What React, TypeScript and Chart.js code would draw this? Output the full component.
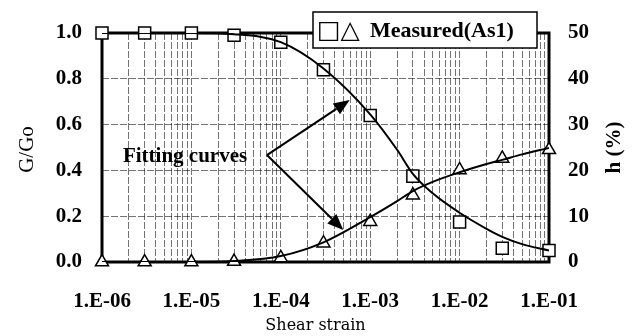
import React, { useEffect, useRef } from "react";
import { Chart, registerables } from "chart.js";

Chart.register(...registerables);

// ---- data ----
const strainPoints = [1e-6, 3e-6, 1e-5, 3e-5, 1e-4, 3e-4, 1e-3, 3e-3, 1e-2, 3e-2, 1e-1];
const measuredG = [1.0, 1.0, 1.0, 0.99, 0.96, 0.84, 0.64, 0.375, 0.175, 0.06, 0.05];
const measuredH = [0, 0, 0, 0.1, 0.9, 4.1, 8.8, 14.6, 20.1, 22.6, 24.5];

const fitStrain = [1e-6, 3e-6, 1e-5, 3e-5, 1e-4, 3e-4, 1e-3, 2e-3, 3e-3, 5e-3, 1e-2, 2e-2, 3e-2, 5e-2, 1e-1];
const fitG = [1.0, 1.0, 1.0, 0.995, 0.96, 0.845, 0.645, 0.49, 0.385, 0.3, 0.215, 0.145, 0.11, 0.078, 0.05];
const fitH = [0, 0, 0, 0.2, 1.3, 4.3, 9.8, 13.3, 15.5, 17.5, 19.6, 21.4, 22.3, 23.5, 24.9];

const xMajorTicks = [1e-6, 1e-5, 1e-4, 1e-3, 1e-2, 1e-1];
const xTickLabels = ["1.E-06", "1.E-05", "1.E-04", "1.E-03", "1.E-02", "1.E-01"];
const xMinorMultipliers = [2, 3, 4, 5, 6, 7, 8, 9];

const xTitle = "Shear strain";
const yTitle = "G/Go";
const y1Title = "h (%)";
const legendSymbols = "□△";
const legendText = "Measured(As1)";
const annotationText = "Fitting curves";

// annotation anchor points in data space (strain, G/Go)
const arrowVertex = { x: 7.0e-5, y: 0.467 };
const arrowTips = [
  { x: 5.9e-4, y: 0.707 },
  { x: 5.0e-4, y: 0.14 },
];
const annotationAnchor = { x: 4.2e-5, y: 0.46 };

const SERIF = "'Liberation Serif', 'Times New Roman', serif";

const overlayPlugin = {
  id: "overlay",
  beforeDatasetsDraw(chart: any) {
    const { ctx, chartArea } = chart;
    ctx.save();
    ctx.strokeStyle = "#000";
    ctx.lineWidth = 3;
    ctx.strokeRect(chartArea.left, chartArea.top, chartArea.right - chartArea.left, chartArea.bottom - chartArea.top);
    ctx.restore();
  },
  afterDatasetsDraw(chart: any) {
    const { ctx, chartArea, scales } = chart;
    const xs = scales.x;
    const ys = scales.y;
    ctx.save();

    // arrows
    const vx = xs.getPixelForValue(arrowVertex.x);
    const vy = ys.getPixelForValue(arrowVertex.y);
    ctx.strokeStyle = "#000";
    ctx.fillStyle = "#000";
    ctx.lineWidth = 2;
    arrowTips.forEach((t) => {
      const tx = xs.getPixelForValue(t.x);
      const ty = ys.getPixelForValue(t.y);
      const ang = Math.atan2(ty - vy, tx - vx);
      const headLen = 16;
      const headW = 6.5;
      const bx = tx - Math.cos(ang) * headLen;
      const by = ty - Math.sin(ang) * headLen;
      ctx.beginPath();
      ctx.moveTo(vx, vy);
      ctx.lineTo(bx, by);
      ctx.stroke();
      ctx.beginPath();
      ctx.moveTo(tx, ty);
      ctx.lineTo(bx + Math.sin(ang) * headW, by - Math.cos(ang) * headW);
      ctx.lineTo(bx - Math.sin(ang) * headW, by + Math.cos(ang) * headW);
      ctx.closePath();
      ctx.fill();
    });

    // annotation text
    ctx.font = `bold 21px ${SERIF}`;
    ctx.textAlign = "right";
    ctx.textBaseline = "middle";
    ctx.fillText(annotationText, xs.getPixelForValue(annotationAnchor.x), ys.getPixelForValue(annotationAnchor.y));

    // legend box
    const bw = 224;
    const bh = 36;
    const bxl = chartArea.right - 12 - bw;
    const byt = chartArea.top - 21;
    ctx.fillStyle = "#fff";
    ctx.fillRect(bxl, byt, bw, bh);
    ctx.lineWidth = 1.5;
    ctx.strokeStyle = "#000";
    ctx.strokeRect(bxl, byt, bw, bh);
    ctx.fillStyle = "#000";
    ctx.textAlign = "left";
    ctx.textBaseline = "middle";
    ctx.font = `25px 'DejaVu Sans', sans-serif`;
    ctx.fillText(legendSymbols, bxl + 4, byt + bh / 2 + 1);
    ctx.font = `bold 22px ${SERIF}`;
    ctx.fillText(legendText, bxl + 57, byt + bh / 2 + 1);

    // axis titles
    const cy = (chartArea.top + chartArea.bottom) / 2;
    ctx.font = `21px ${SERIF}`;
    ctx.textAlign = "center";
    ctx.save();
    ctx.translate(chartArea.left - 75, cy + 2);
    ctx.rotate(-Math.PI / 2);
    ctx.fillText(yTitle, 0, 0);
    ctx.restore();

    ctx.font = `bold 21px ${SERIF}`;
    ctx.save();
    ctx.translate(chartArea.right + 66, cy);
    ctx.rotate(-Math.PI / 2);
    ctx.fillText(y1Title, 0, 0);
    ctx.restore();

    ctx.font = `16px 'DejaVu Serif', serif`;
    ctx.fillText(xTitle, (chartArea.left + chartArea.right) / 2 - 10, chartArea.bottom + 64);

    ctx.restore();
  },
};

export default function App() {
  const ref = useRef<HTMLCanvasElement>(null);
  useEffect(() => {
    const canvas = ref.current!;
    const pts = (xs: number[], ys: number[]) => xs.map((x, i) => ({ x, y: ys[i] }));
    const chart = new Chart(canvas, {
      type: "line",
      data: {
        datasets: [
          {
            data: pts(fitStrain, fitG),
            yAxisID: "y",
            borderColor: "#000",
            borderWidth: 2,
            pointRadius: 0,
            cubicInterpolationMode: "monotone",
            fill: false,
          },
          {
            data: pts(fitStrain, fitH),
            yAxisID: "y1",
            borderColor: "#000",
            borderWidth: 2,
            pointRadius: 0,
            cubicInterpolationMode: "monotone",
            fill: false,
          },
          {
            data: pts(strainPoints, measuredG),
            yAxisID: "y",
            showLine: false,
            pointStyle: "rect",
            pointRadius: 8.5,
            pointBackgroundColor: "#fff",
            pointBorderColor: "#000",
            pointBorderWidth: 1.5,
            clip: false,
          },
          {
            data: pts(strainPoints, measuredH),
            yAxisID: "y1",
            showLine: false,
            pointStyle: "triangle",
            pointRadius: 7.5,
            pointBackgroundColor: "#fff",
            pointBorderColor: "#000",
            pointBorderWidth: 1.5,
            clip: false,
          },
        ] as any,
      },
      options: {
        animation: false,
        responsive: false,
        devicePixelRatio: 1,
        layout: { padding: { top: 33, left: 0, right: 0, bottom: 0 } },
        plugins: { legend: { display: false }, tooltip: { enabled: false } },
        scales: {
          x: {
            type: "logarithmic",
            min: 1e-6,
            max: 1e-1,
            afterBuildTicks: (scale: any) => {
              const ticks: any[] = [];
              xMajorTicks.forEach((m, i) => {
                ticks.push({ value: m });
                if (i < xMajorTicks.length - 1) xMinorMultipliers.forEach((k) => ticks.push({ value: m * k }));
              });
              scale.ticks = ticks;
            },
            afterFit: (scale: any) => {
              scale.height = 74;
            },
            grid: { color: "rgba(0,0,0,0.55)", lineWidth: 1, drawTicks: false },
            border: { display: false, dash: [7, 2] },
            ticks: {
              autoSkip: false,
              maxRotation: 0,
              padding: 27,
              color: "#000",
              font: { family: SERIF, size: 21, weight: "bold" },
              callback: (v: any) => {
                const idx = xMajorTicks.findIndex((m) => Math.abs(m - v) / m < 1e-6);
                return idx >= 0 ? xTickLabels[idx] : "";
              },
            },
          },
          y: {
            type: "linear",
            position: "left",
            min: 0,
            max: 1,
            afterFit: (scale: any) => {
              scale.width = 102;
            },
            grid: { color: "rgba(0,0,0,0.55)", lineWidth: 1, drawTicks: false },
            border: { display: false, dash: [7, 2] },
            ticks: {
              stepSize: 0.2,
              padding: 20,
              color: "#000",
              font: { family: SERIF, size: 21, weight: "bold" },
              callback: (v: any) => Number(v).toFixed(1),
            },
          },
          y1: {
            type: "linear",
            position: "right",
            min: 0,
            max: 50,
            afterFit: (scale: any) => {
              scale.width = 88;
            },
            grid: { display: false, drawTicks: false },
            border: { display: false },
            ticks: {
              stepSize: 10,
              padding: 19,
              color: "#000",
              font: { family: SERIF, size: 21, weight: "bold" },
            },
          },
        },
      } as any,
      plugins: [overlayPlugin],
    });
    return () => chart.destroy();
  }, []);
  return (
    <div style={{ position: "fixed", left: 0, top: 0, width: 637, height: 336, background: "#fff" }}>
      <canvas ref={ref} width={637} height={336} />
    </div>
  );
}
